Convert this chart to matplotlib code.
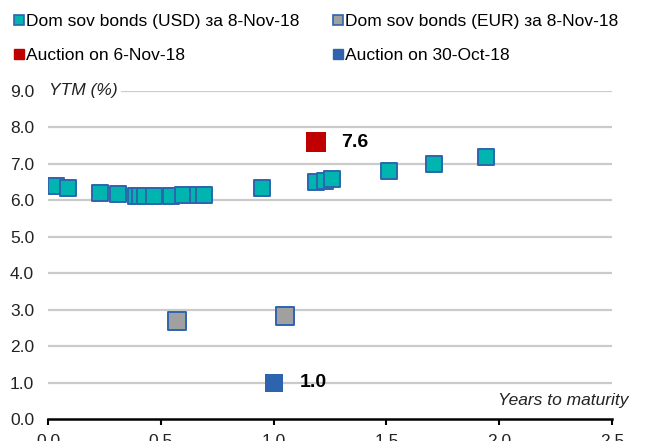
import matplotlib
matplotlib.use("Agg")
import matplotlib.pyplot as plt
from matplotlib import font_manager as fm
from matplotlib.lines import Line2D

# narrow font if there is one, else Liberation Sans
names = set(f.name for f in fm.fontManager.ttflist)
if "Liberation Sans Narrow" in names:
    plt.rcParams["font.family"] = ["Liberation Sans Narrow", "DejaVu Sans"]
else:
    plt.rcParams["font.family"] = ["Liberation Sans", "DejaVu Sans"]

# data
usd_years = [0.035, 0.09, 0.23, 0.31, 0.39, 0.41, 0.43, 0.47, 0.545, 0.60, 0.665, 0.69,
             0.95, 1.19, 1.23, 1.26, 1.51, 1.71, 1.94]
usd_ytm = [6.39, 6.33, 6.20, 6.17, 6.12, 6.12, 6.12, 6.12, 6.13, 6.14, 6.15, 6.16,
           6.33, 6.51, 6.54, 6.58, 6.81, 6.99, 7.18]
eur_years = [0.57, 1.05]
eur_ytm = [2.70, 2.83]
auction_nov_years = [1.19]
auction_nov_ytm = [7.6]
auction_oct_years = [1.0]
auction_oct_ytm = [1.0]

teal = "#00b5b0"
edge_blue = "#2e64ae"
gray = "#a0a0a0"
red = "#c00000"
blue = "#2e64ae"

fig = plt.figure(figsize=(6.46, 4.41), dpi=100)
ax = fig.add_axes([48 / 646, 1 - 419 / 441, (612 - 48) / 646, (419 - 91) / 441])

ax.set_xlim(0, 2.5)
ax.set_ylim(0, 9)
ax.set_yticks(range(0, 10))
ax.set_yticklabels(["%.1f" % v for v in range(0, 10)])
ax.set_xticks([0, 0.5, 1.0, 1.5, 2.0, 2.5])
ax.set_xticklabels(["0.0", "0.5", "1.0", "1.5", "2.0", "2.5"])
ax.tick_params(axis="y", length=0, pad=10, labelsize=12.5, colors="#222222")
ax.tick_params(axis="x", length=4, width=1.5, direction="out", pad=7, labelsize=12.5, colors="black")
ax.tick_params(axis="x", labelcolor="#222222")

for y in range(1, 10):
    ax.axhline(y, color="#c9cbca", lw=1.6, zorder=1)
for s in ["top", "right", "left"]:
    ax.spines[s].set_visible(False)
ax.spines["bottom"].set_linewidth(1.8)
ax.spines["bottom"].set_zorder(3)

ax.scatter(usd_years, usd_ytm, marker="s", s=125, c=teal, edgecolors=edge_blue, linewidths=1.4, zorder=4)
ax.scatter(eur_years, eur_ytm, marker="s", s=150, c=gray, edgecolors=edge_blue, linewidths=1.4, zorder=4)
ax.scatter(auction_nov_years, auction_nov_ytm, marker="s", s=205, c=red, linewidths=0, zorder=4)
ax.scatter(auction_oct_years, auction_oct_ytm, marker="s", s=180, c=blue, linewidths=0, zorder=4)

ax.text(1.30, auction_nov_ytm[0], "%.1f" % auction_nov_ytm[0], fontsize=14, fontweight="bold",
        va="center", ha="left", zorder=5)
ax.text(1.117, auction_oct_ytm[0], "%.1f" % auction_oct_ytm[0], fontsize=14, fontweight="bold",
        va="center", ha="left", zorder=5)

ax.text(0.005, 9.0, "YTM (%)", fontsize=12.5, style="italic", va="center", ha="left", zorder=6,
        color="#222222", bbox=dict(facecolor="white", edgecolor="none", pad=2.5))
ax.text(2.575, 0.52, "Years to maturity", fontsize=12.5, style="italic", va="center", ha="right",
        color="#222222", clip_on=False)

handles = [
    Line2D([], [], ls="none", marker="s", markersize=7, markerfacecolor=teal, markeredgecolor=edge_blue, markeredgewidth=1.2),
    Line2D([], [], ls="none", marker="s", markersize=7, markerfacecolor=red, markeredgecolor=red),
    Line2D([], [], ls="none", marker="s", markersize=7, markerfacecolor=gray, markeredgecolor=edge_blue, markeredgewidth=1.2),
    Line2D([], [], ls="none", marker="s", markersize=7, markerfacecolor=blue, markeredgecolor=blue),
]
labels = ["Dom sov bonds (USD) за 8-Nov-18", "Auction on 6-Nov-18",
          "Dom sov bonds (EUR) за 8-Nov-18", "Auction on 30-Oct-18"]
fig.legend(handles, labels, ncol=2, loc="upper left", bbox_to_anchor=(0.0, 1.0), frameon=False,
           fontsize=12.5, handlelength=0.6, handletextpad=0.1, columnspacing=1.9, labelspacing=1.1,
           borderpad=0.3, borderaxespad=0.5)

fig.savefig("out.png", dpi=100)
